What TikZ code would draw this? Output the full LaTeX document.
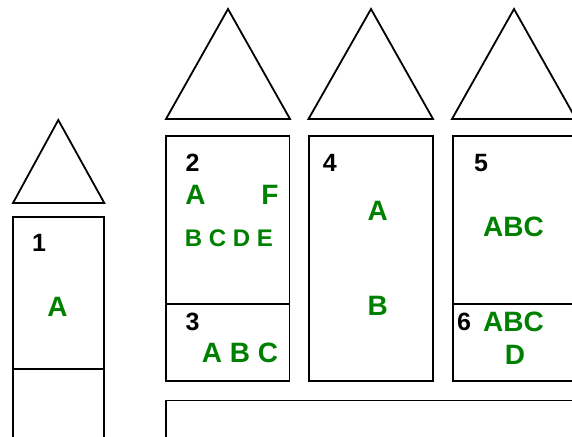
\documentclass[tikz,border=0pt]{standalone}
\usepackage{fontspec}
\setmainfont{Liberation Sans}
\usepackage{tikz}
\usepackage{xcolor}
\definecolor{Verde}{RGB}{0,128,0}

\begin{document}
\begin{tikzpicture}[
    x=1pt, y=-1pt,
    wall/.style={draw=black, line width=1.8pt, line join=miter},
    num/.style={inner sep=0pt, font=\fontsize{25}{25}\selectfont\bfseries, text=black},
    lbl/.style={inner sep=0pt, font=\fontsize{28}{28}\selectfont\bfseries, text=Verde},
    lblsmall/.style={inner sep=0pt, font=\fontsize{24}{24}\selectfont\bfseries, text=Verde}
]
    \useasboundingbox (0,0) rectangle (572,436);
    \clip (0,0) rectangle (572,436);
    % roofs
    \draw[wall] (13,203) -- (58.3,120) -- (104.3,203) -- cycle;
    \draw[wall] (166,119) -- (228,9) -- (290,119) -- cycle;
    \draw[wall] (308.5,119) -- (371,9) -- (433,119) -- cycle;
    \draw[wall] (452,119) -- (514,9) -- (576,119) -- cycle;
    % towers
    \draw[wall] (13,217) rectangle (104.3,450);
    \draw[wall] (13,369) -- (104.3,369);
    \draw[wall] (166,136) rectangle (289.5,381);
    \draw[wall] (166,304.3) -- (289.5,304.3);
    \draw[wall] (309,136) rectangle (433,381);
    \draw[wall] (453,136) rectangle (590,381);
    \draw[wall] (453,304.3) -- (590,304.3);
    \draw[wall] (166,400.5) rectangle (600,460);
    % tower 1
    \node[num] (n1) at (39,243) {1};
    \node[lbl] (t1a) at (57.5,307) {A};
    % tower 2 / 3
    \node[num] (n2) at (192.5,163) {2};
    \node[lbl] (t2a) at (195.5,195) {A};
    \node[lbl] (t2f) at (270,195) {F};
    \node[lblsmall] (t2b) at (229,238.5) {B C D E};
    \node[num] (n3) at (192.5,322) {3};
    \node[lbl] (t3a) at (240,353) {A B C};
    % tower 4
    \node[num] (n4) at (329.7,163) {4};
    \node[lbl] (t4a) at (377.8,211) {A};
    \node[lbl] (t4b) at (377.8,305.5) {B};
    % tower 5 / 6
    \node[num] (n5) at (481,163) {5};
    \node[lbl] (t5a) at (513.5,227) {ABC};
    \node[num] (n6) at (464,322) {6};
    \node[lbl] (t6a) at (513.5,322) {ABC};
    \node[lbl] (t6d) at (515,355) {D};
\end{tikzpicture}
\end{document}
